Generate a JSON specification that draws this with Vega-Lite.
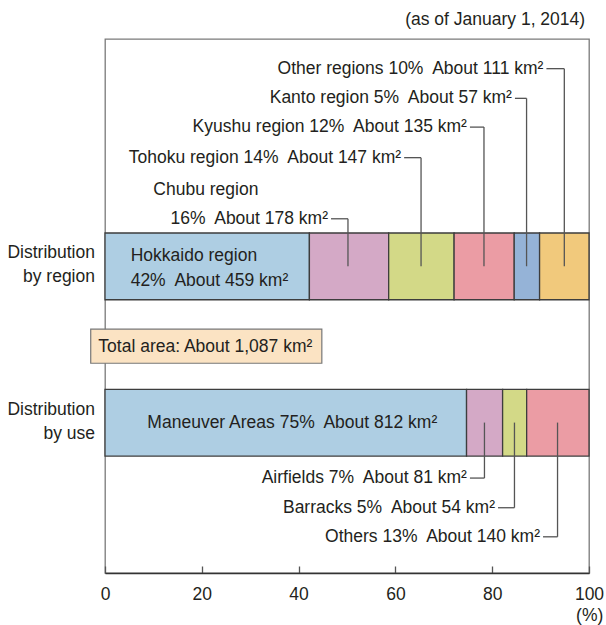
{
  "$schema": "https://vega.github.io/schema/vega-lite/v6.json",
  "width": 484,
  "height": 534,
  "autosize": {"type": "none"},
  "padding": {"left": 105, "top": 39, "right": 17, "bottom": 52},
  "background": "white",
  "config": {
    "view": {"stroke": "#7a7a7a", "strokeWidth": 1.3},
    "text": {"font": "Liberation Sans", "fontSize": 17.5, "fill": "#231f20"}
  },
  "datasets": {
    "segments": [
      {"dist": "region", "cat": "Hokkaido region", "ord": 1, "pct": 42.23, "km2": 459},
      {"dist": "region", "cat": "Chubu region", "ord": 2, "pct": 16.38, "km2": 178},
      {"dist": "region", "cat": "Tohoku region", "ord": 3, "pct": 13.52, "km2": 147},
      {"dist": "region", "cat": "Kyushu region", "ord": 4, "pct": 12.42, "km2": 135},
      {"dist": "region", "cat": "Kanto region", "ord": 5, "pct": 5.24, "km2": 57},
      {"dist": "region", "cat": "Other regions", "ord": 6, "pct": 10.21, "km2": 111},
      {"dist": "use", "cat": "Maneuver Areas", "ord": 1, "pct": 74.70, "km2": 812},
      {"dist": "use", "cat": "Airfields", "ord": 2, "pct": 7.45, "km2": 81},
      {"dist": "use", "cat": "Barracks", "ord": 3, "pct": 4.97, "km2": 54},
      {"dist": "use", "cat": "Others", "ord": 4, "pct": 12.88, "km2": 140}
    ],
    "callouts": [
      {"dist": "region", "text": "Other regions 10%\u00a0 About 111 km²", "lx": 94.9, "hx": 91.2, "level": 1.0},
      {"dist": "region", "text": "Kanto region 5%\u00a0 About 57 km²", "lx": 87.1, "hx": 84.7, "level": 2.0},
      {"dist": "region", "text": "Kyushu region 12%\u00a0 About 135 km²", "lx": 78.3, "hx": 75.4, "level": 2.97},
      {"dist": "region", "text": "Tohoku region 14%\u00a0 About 147 km²", "lx": 65.3, "hx": 61.8, "level": 4.0},
      {"dist": "region", "text": "16%\u00a0 About 178 km²", "lx": 50.2, "hx": 46.7, "level": 6.06},
      {"dist": "use", "text": "Airfields 7%\u00a0 About 81 km²", "lx": 78.4, "hx": 75.4, "level": 14.8},
      {"dist": "use", "text": "Barracks 5%\u00a0 About 54 km²", "lx": 84.6, "hx": 81.2, "level": 15.8},
      {"dist": "use", "text": "Others 13%\u00a0 About 140 km²", "lx": 93.5, "hx": 90.5, "level": 16.78}
    ]
  },
  "layer": [
    {
      "data": {"name": "segments"},
      "transform": [
        {"filter": "datum.dist === 'region'"},
        {"stack": "pct", "groupby": ["dist"], "sort": [{"field": "ord"}], "as": ["x0", "x1"]}
      ],
      "mark": {"type": "rect", "stroke": "#3d3d3d", "strokeWidth": 1.3},
      "encoding": {
        "x": {"field": "x0", "type": "quantitative",
          "scale": {"domain": [0, 100], "nice": false},
          "axis": {"values": [0, 20, 40, 60, 80, 100], "tickSize": -7, "tickColor": "#555", "tickWidth": 1.3,
            "domainColor": "#333", "domainWidth": 1.5, "labelFont": "Liberation Sans", "labelFontSize": 17.5,
            "labelColor": "#231f20", "labelPadding": 19, "grid": false, "title": null, "labelFlush": false}},
        "x2": {"field": "x1"},
        "y": {"datum": 6.54, "type": "quantitative", "scale": {"domain": [0, 18], "reverse": true, "nice": false}, "axis": null},
        "y2": {"datum": 8.79},
        "color": {"field": "cat", "type": "nominal", "legend": null,
          "scale": {"domain": ["Hokkaido region", "Chubu region", "Tohoku region", "Kyushu region", "Kanto region", "Other regions", "Maneuver Areas", "Airfields", "Barracks", "Others"],
            "range": ["#aecee3", "#d4a9c6", "#d3d987", "#eb9ca4", "#95b3d7", "#f1c97c", "#aecee3", "#d4a9c6", "#d3d987", "#eb9ca4"]}}
      }
    },
    {
      "data": {"name": "segments"},
      "transform": [
        {"filter": "datum.dist === 'use'"},
        {"stack": "pct", "groupby": ["dist"], "sort": [{"field": "ord"}], "as": ["x0", "x1"]}
      ],
      "mark": {"type": "rect", "stroke": "#3d3d3d", "strokeWidth": 1.3},
      "encoding": {
        "x": {"field": "x0", "type": "quantitative"},
        "x2": {"field": "x1"},
        "y": {"datum": 11.81, "type": "quantitative"},
        "y2": {"datum": 14.06},
        "color": {"field": "cat", "type": "nominal", "legend": null}
      }
    },
    {
      "data": {"name": "callouts"},
      "transform": [{"filter": "datum.dist === 'region'"}],
      "mark": {"type": "rule", "stroke": "#555", "strokeWidth": 1.3},
      "encoding": {
        "x": {"field": "lx", "type": "quantitative"},
        "y": {"field": "level", "type": "quantitative"},
        "y2": {"datum": 7.66}
      }
    },
    {
      "data": {"name": "callouts"},
      "transform": [{"filter": "datum.dist === 'use'"}],
      "mark": {"type": "rule", "stroke": "#555", "strokeWidth": 1.3},
      "encoding": {
        "x": {"field": "lx", "type": "quantitative"},
        "y": {"field": "level", "type": "quantitative"},
        "y2": {"datum": 12.93}
      }
    },
    {
      "data": {"name": "callouts"},
      "mark": {"type": "rule", "stroke": "#555", "strokeWidth": 1.3},
      "encoding": {
        "x": {"field": "hx", "type": "quantitative"},
        "x2": {"field": "lx"},
        "y": {"field": "level", "type": "quantitative"}
      }
    },
    {
      "data": {"name": "callouts"},
      "mark": {"type": "text", "align": "right", "baseline": "middle", "dx": -3},
      "encoding": {
        "x": {"field": "hx", "type": "quantitative"},
        "y": {"field": "level", "type": "quantitative"},
        "text": {"field": "text"}
      }
    },
    {
      "data": {"values": [{"box": "Total area"}]},
      "mark": {"type": "rect", "fill": "#fbe3c3", "stroke": "#777", "strokeWidth": 1.2},
      "encoding": {
        "x": {"datum": -2.95, "type": "quantitative"},
        "x2": {"datum": 44.8},
        "y": {"datum": 9.78, "type": "quantitative"},
        "y2": {"datum": 10.93}
      }
    },
    {
      "data": {"values": [
        {"label": "Hokkaido region\n42%\u00a0 About 459 km²", "x": 5.3, "level": 7.31},
        {"label": "Chubu region", "x": 9.98, "level": 5.09},
        {"label": "Total area: About 1,087 km²", "x": -1.38, "level": 10.37}
      ]},
      "mark": {"type": "text", "align": "left", "baseline": "middle", "lineBreak": "\n", "lineHeight": 25.4},
      "encoding": {
        "x": {"field": "x", "type": "quantitative"},
        "y": {"field": "level", "type": "quantitative"},
        "text": {"field": "label"}
      }
    },
    {
      "data": {"values": [
        {"label": "Maneuver Areas 75%\u00a0 About 812 km²", "x": 38.7, "level": 12.95}
      ]},
      "mark": {"type": "text", "align": "center", "baseline": "middle"},
      "encoding": {
        "x": {"field": "x", "type": "quantitative"},
        "y": {"field": "level", "type": "quantitative"},
        "text": {"field": "label"}
      }
    },
    {
      "data": {"values": [
        {"label": "Distribution\nby region", "x": -2.07, "level": 7.2},
        {"label": "Distribution\nby use", "x": -2.07, "level": 12.5},
        {"label": "(as of January 1, 2014)", "x": 99.2, "level": -0.64},
        {"label": "(%)", "x": 102.95, "level": 19.45}
      ]},
      "mark": {"type": "text", "align": "right", "baseline": "middle", "lineBreak": "\n", "lineHeight": 24.6},
      "encoding": {
        "x": {"field": "x", "type": "quantitative"},
        "y": {"field": "level", "type": "quantitative"},
        "text": {"field": "label"}
      }
    }
  ]
}
